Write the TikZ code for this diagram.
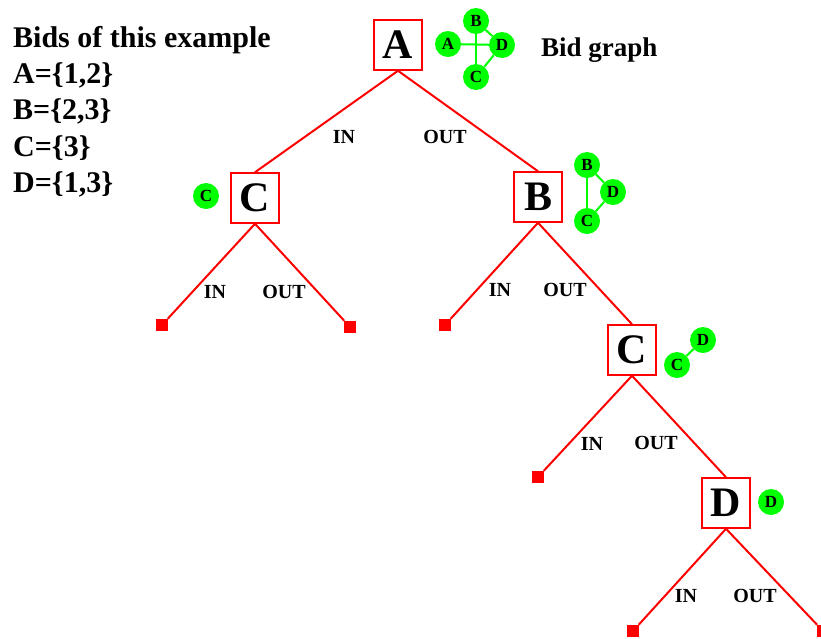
\documentclass[tikz,border=0pt]{standalone}
\usepackage{fontspec}
\setmainfont{Liberation Serif}
\usetikzlibrary{positioning}

\begin{document}
\begin{tikzpicture}[x=1pt, y=-1pt,
    bidbox/.style={draw=red, line width=1.5pt, fill=white, minimum width=48pt, minimum height=50pt, inner sep=0pt, font=\fontsize{42}{42}\selectfont\bfseries},
    leaf/.style={fill=red, minimum size=12pt, inner sep=0pt},
    edge/.style={red, line width=2pt},
    lbl/.style={inner sep=0pt, font=\fontsize{20}{20}\selectfont\bfseries},
    bid/.style={circle, fill=green, minimum size=26pt, inner sep=0pt, font=\fontsize{17}{17}\selectfont\bfseries},
    gedge/.style={green, line width=2pt},
    txt/.style={anchor=base west, inner sep=0pt, font=\fontsize{30}{30}\selectfont\bfseries},
]
\clip (0,0) rectangle (821,638);

% Bids
\node[txt] (title) at (13,47) {Bids of this example};
\node[txt] (bidA) at (13,83) {A=\{1,2\}};
\node[txt] (bidB) at (13,119) {B=\{2,3\}};
\node[txt] (bidC) at (13,156) {C=\{3\}};
\node[txt] (bidD) at (13,192) {D=\{1,3\}};

% Search tree
\node[bidbox] (A) at (398,45) {A};
\node[bidbox] (C1) at (255,198) {C};
\node[bidbox] (B) at (538,197) {B};
\node[bidbox] (C2) at (632,350) {C};
\node[bidbox] (D) at (726,503) {D};

% Leaves
\node[leaf] (l1) at (162,325) {};
\node[leaf] (l2) at (350,327) {};
\node[leaf] (l3) at (445,325) {};
\node[leaf] (l4) at (538,477) {};
\node[leaf] (l5) at (633,631) {};
\node[leaf] (l6) at (823,631) {};

% Branches
\draw[edge] (A.south) -- (C1.north);
\draw[edge] (A.south) -- (B.north);
\draw[edge] (C1.south) -- (l1);
\draw[edge] (C1.south) -- (l2);
\draw[edge] (B.south) -- (l3);
\draw[edge] (B.south) -- (C2.north);
\draw[edge] (C2.south) -- (l4);
\draw[edge] (C2.south) -- (D.north);
\draw[edge] (D.south) -- (l5);
\draw[edge] (D.south) -- (l6);

% IN / OUT
\node[lbl] (inA) at (344,137) {IN};
\node[lbl] (outA) at (445,137) {OUT};
\node[lbl] (inC1) at (215,292) {IN};
\node[lbl] (outC1) at (284,292) {OUT};
\node[lbl] (inB) at (500,290) {IN};
\node[lbl] (outB) at (565,290) {OUT};
\node[lbl] (inC2) at (592,444) {IN};
\node[lbl] (outC2) at (656,443) {OUT};
\node[lbl] (inD) at (686,596) {IN};
\node[lbl] (outD) at (755,596) {OUT};

% Bid graphs
\node[bid] (gA) at (448,44) {A};
\node[bid] (gB) at (476,21) {B};
\node[bid] (gD) at (502,45) {D};
\node[bid] (gC) at (476,77) {C};
\draw[gedge] (gA) -- (gD);
\draw[gedge] (gB) -- (gC);
\draw[gedge] (gB) -- (gD);
\draw[gedge] (gD) -- (gC);
\node[txt, font=\fontsize{27}{27}\selectfont\bfseries] (graphlbl) at (541,56) {Bid graph};

\node[bid] (hB) at (587,165) {B};
\node[bid] (hD) at (613,192) {D};
\node[bid] (hC) at (587,221) {C};
\draw[gedge] (hB) -- (hC);
\draw[gedge] (hB) -- (hD);
\draw[gedge] (hD) -- (hC);

\node[bid] (kC) at (206,196) {C};

\node[bid] (mD) at (703,340) {D};
\node[bid] (mC) at (677,365) {C};
\draw[gedge] (mC) -- (mD);

\node[bid] (nD) at (771,502) {D};

\end{tikzpicture}
\end{document}
